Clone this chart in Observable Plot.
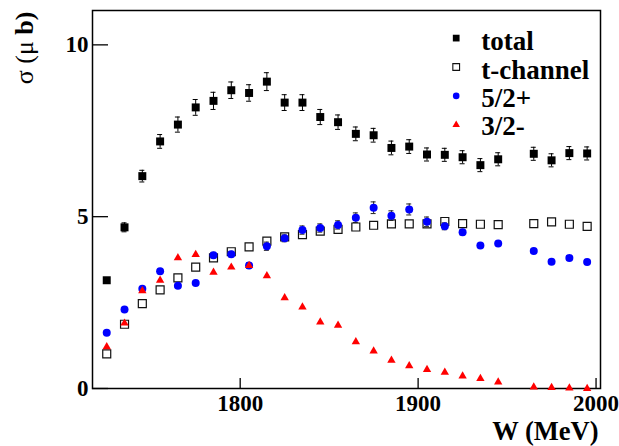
<!DOCTYPE html>
<html><head><meta charset="utf-8">
<script src="https://cdn.jsdelivr.net/npm/d3@7"></script>
<script src="https://cdn.jsdelivr.net/npm/@observablehq/plot@0.6"></script>
<style>
body{margin:0;background:#fff}
#chart svg text, #chart svg tspan{font-family:"Liberation Serif","Times New Roman",serif;}
</style>
</head><body><div id="chart"></div>
<script>
// ---- data ----
const W = [1725,1735,1745,1755,1765,1775,1785,1795,1805,1815,1825,1835,1845,1855,1865,1875,1885,1895,1905,1915,1925,1935,1945,1965,1975,1985,1995];
const total = [3.15,4.69,6.18,7.19,7.68,8.18,8.37,8.68,8.60,8.93,8.32,8.32,7.90,7.75,7.41,7.37,7.00,7.04,6.81,6.80,6.73,6.50,6.67,6.83,6.64,6.85,6.84];
const totalErr = [0.08,0.13,0.17,0.20,0.22,0.23,0.25,0.24,0.24,0.26,0.23,0.23,0.22,0.21,0.20,0.20,0.20,0.20,0.19,0.19,0.19,0.19,0.19,0.19,0.19,0.19,0.19];
const tchan = [1.01,1.87,2.47,2.87,3.22,3.53,3.80,3.98,4.12,4.29,4.41,4.48,4.58,4.63,4.70,4.75,4.79,4.79,4.79,4.86,4.80,4.78,4.77,4.80,4.85,4.78,4.72];
const wave52 = [1.62,2.30,2.90,3.41,2.99,3.07,3.88,3.91,3.58,4.14,4.37,4.61,4.67,4.76,4.97,5.26,5.03,5.21,4.85,4.72,4.55,4.16,4.22,4.00,3.69,3.80,3.68];
const err52 = [0.05,0.05,0.05,0.05,0.05,0.05,0.08,0.08,0.08,0.12,0.10,0.12,0.12,0.12,0.14,0.17,0.14,0.16,0.14,0.10,0.08,0.06,0.06,0.06,0.06,0.06,0.06];
const wave32 = [1.21,1.90,2.84,3.15,3.80,3.90,3.38,3.53,3.58,3.28,2.64,2.37,1.93,1.84,1.36,1.09,0.82,0.66,0.55,0.47,0.36,0.29,0.19,0.04,0.03,0.01,0.00];
const xTicks = [1800,1900,2000];
const yTicks = [0,5,10];
const xDomain = [1717,2002.5];
const yDomain = [0,11];
const legendLabels = ["total","t-channel","5/2+","3/2-"];
const xLabel = "W (MeV)";
const yLabelParts = ["σ (μ ","b)"];
const yLabel = yLabelParts.join("");

// ---- layout / styles ----
const width = 619, height = 446, mL = 92, mR = 19, mT = 10, mB = 58;
const innerW = width - mL - mR, innerH = height - mT - mB;
const serif = "Liberation Serif";
const legendStyles = [
  {symbol:"square", fill:"black", stroke:"none", r:3.8},
  {symbol:"square", fill:"none", stroke:"#111", r:3.8, strokeWidth:1.1},
  {symbol:"circle", fill:"#0000ff", stroke:"none", r:3.3},
  {symbol:"triangle", fill:"#ff0000", stroke:"none", r:2.8}
];

const rows = W.map((w,i)=>({w, total:total[i], totalErr:totalErr[i], tchan:tchan[i], w52:wave52[i], e52:err52[i], w32:wave32[i]}));

function errBars(key, errKey, stroke){
  return [
    Plot.ruleX(rows, {x:"w", y1:d=>d[key]-d[errKey], y2:d=>d[key]+d[errKey], stroke, strokeWidth:1}),
    Plot.ruleY(rows, {y:d=>d[key]+d[errKey], x1:"w", x2:"w", insetLeft:-2.5, insetRight:-2.5, stroke, strokeWidth:1}),
    Plot.ruleY(rows, {y:d=>d[key]-d[errKey], x1:"w", x2:"w", insetLeft:-2.5, insetRight:-2.5, stroke, strokeWidth:1})
  ];
}

const legendMarks = [];
legendLabels.forEach((lab,i)=>{
  const s = legendStyles[i];
  legendMarks.push(Plot.dot([lab], {frameAnchor:"top-left", dx:363.7, dy:27.6+28.9*i, ...s}));
  legendMarks.push(Plot.text([lab], {text:d=>d, frameAnchor:"top-left", dx:388.7, dy:39.7+28.3*i, textAnchor:"start", lineAnchor:"bottom", fontSize:27, fontFamily:serif, fontWeight:"bold", fill:"black"}));
});

const chart = Plot.plot({
  width, height,
  marginLeft:mL, marginRight:mR, marginTop:mT, marginBottom:mB,
  style:{fontFamily:serif, fontWeight:"bold", background:"white", color:"black"},
  x:{domain:xDomain},
  y:{domain:yDomain},
  marks:[
    Plot.frame({stroke:"black", strokeWidth:1.5}),
    Plot.tickX(xTicks, {x:d=>d, insetTop:innerH-10, stroke:"black", strokeWidth:1.3}),
    Plot.tickY(yTicks, {y:d=>d, insetRight:innerW-16, stroke:"black", strokeWidth:1.3}),
    Plot.axisX(xTicks, {tickSize:0, tickPadding:6, fontSize:23, fontFamily:serif, fontWeight:"bold", tickFormat:d=>String(d), label:null}),
    Plot.axisY(yTicks, {tickSize:0, tickPadding:4, fontSize:23, fontFamily:serif, fontWeight:"bold", tickFormat:d=>String(d), label:null}),
    ...errBars("total","totalErr","black"),
    Plot.dot(rows, {x:"w", y:"total", symbol:"square", r:4.5, fill:"black"}),
    Plot.dot(rows, {x:"w", y:"tchan", symbol:"square", r:4.5, fill:"none", stroke:"#111", strokeWidth:1.2}),
    ...errBars("w52","e52","#222"),
    Plot.dot(rows, {x:"w", y:"w52", symbol:"circle", r:4, fill:"#0000ff"}),
    Plot.dot(rows, {x:"w", y:"w32", symbol:"triangle", r:3.1, fill:"#ff0000"}),
    ...legendMarks,
    Plot.text([xLabel], {text:d=>d, frameAnchor:"bottom-right", dx:-2, dy:51.5, textAnchor:"end", lineAnchor:"bottom", fontSize:26.5, fontFamily:serif, fontWeight:"bold", fill:"black"}),
    Plot.text([yLabel], {text:d=>d, frameAnchor:"top-left", dx:-60, dy:1, rotate:-90, textAnchor:"end", lineAnchor:"bottom", fontSize:26, fontFamily:serif, fontWeight:"bold", fill:"black"})
  ]
});
document.getElementById("chart").appendChild(chart);

// mixed weight in the y label
d3.select(chart).selectAll("text").filter(function(){return this.textContent===yLabel;}).each(function(){
  const t = d3.select(this); t.text("");
  t.append("tspan").attr("font-weight","normal").text(yLabelParts[0]);
  t.append("tspan").text(yLabelParts[1]);
});
</script>
</body></html>
